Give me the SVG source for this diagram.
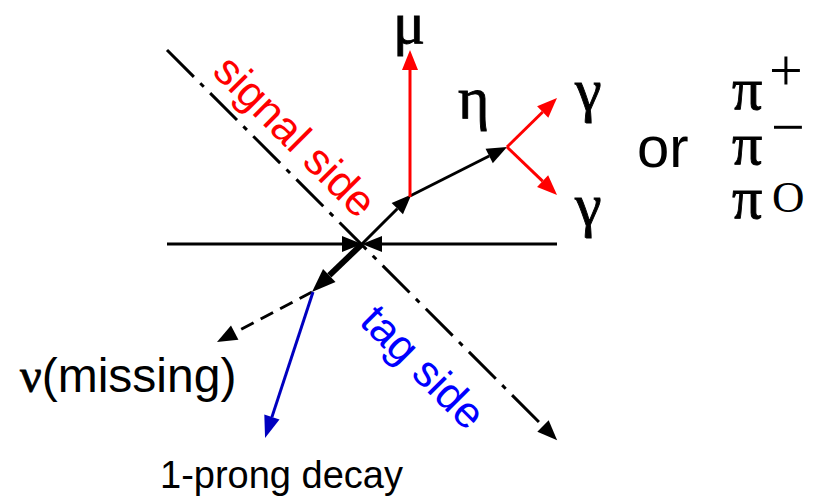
<svg xmlns="http://www.w3.org/2000/svg" width="821" height="498" viewBox="0 0 821 498">
<style>
.ln{fill:none;stroke-linecap:butt}
.k{stroke:#000}
.r{stroke:#ff0000}
.b{stroke:#0000c0}
.sans{font-family:"Liberation Sans",Arial,sans-serif}
.ser{font-family:"Liberation Serif","Times New Roman",serif}
.gk{font-family:"Liberation Serif","Times New Roman",serif;stroke:#000;stroke-width:0.9}
</style>
<defs>
<marker id="ak" markerUnits="userSpaceOnUse" markerWidth="20" markerHeight="16" refX="0" refY="8" orient="auto" viewBox="0 0 20 16" overflow="visible"><path d="M0,0 L20,8 L0,16 z" fill="#000"/></marker>
<marker id="akb" markerUnits="userSpaceOnUse" markerWidth="24" markerHeight="18" refX="0" refY="9" orient="auto" viewBox="0 0 24 18" overflow="visible"><path d="M0,0 L24,9 L0,18 z" fill="#000"/></marker>
<marker id="ar" markerUnits="userSpaceOnUse" markerWidth="20" markerHeight="16" refX="0" refY="8" orient="auto" viewBox="0 0 20 16" overflow="visible"><path d="M0,0 L20,8 L0,16 z" fill="#ff0000"/></marker>
<marker id="ab" markerUnits="userSpaceOnUse" markerWidth="22" markerHeight="16" refX="0" refY="8" orient="auto" viewBox="0 0 22 16" overflow="visible"><path d="M0,0 L22,8 L0,16 z" fill="#0000c0"/></marker>
</defs>
<g id="connectors">
<line class="ln k" x1="167" y1="244" x2="342" y2="244" stroke-width="3" marker-end="url(#ak)"/>
<line class="ln k" x1="557" y1="244" x2="382" y2="244" stroke-width="3" marker-end="url(#ak)"/>
<line class="ln k" x1="167" y1="50" x2="543" y2="426" stroke-width="3" stroke-dasharray="38 9 5 9" marker-end="url(#ak)"/>
<line class="ln k" x1="362" y1="244" x2="397.3" y2="208.7" stroke-width="3" marker-end="url(#ak)"/>
<line class="ln k" x1="362" y1="244" x2="329.3" y2="275.4" stroke-width="6" marker-end="url(#akb)"/>
<line class="ln k" x1="410" y1="196" x2="489.2" y2="156" stroke-width="3" marker-end="url(#ak)"/>
<line class="ln r" x1="410" y1="197" x2="410" y2="70" stroke-width="3" marker-end="url(#ar)"/>
<line class="ln r" x1="507" y1="147" x2="542.7" y2="112" stroke-width="3" marker-end="url(#ar)"/>
<line class="ln r" x1="507" y1="147" x2="542.6" y2="181.1" stroke-width="3" marker-end="url(#ar)"/>
<line class="ln k" x1="312" y1="292" x2="234.7" y2="332.7" stroke-width="3" stroke-dasharray="14 8" marker-end="url(#ak)"/>
<line class="ln b" x1="313" y1="292" x2="271.9" y2="417.1" stroke-width="3" marker-end="url(#ab)"/>
</g>
<g id="signal-side"><text class="sans" transform="translate(211,73) rotate(45)" font-size="44" fill="#ff0000">signal side</text></g>
<g id="tag-side"><text class="sans" transform="translate(358,323) rotate(45)" font-size="44" fill="#0000ff">tag side</text></g>
<g id="mu"><text class="gk" x="393" y="43" font-size="60">μ</text></g>
<g id="eta"><text class="gk" x="458" y="118" font-size="60">η</text></g>
<g id="gamma1"><text class="gk" x="575" y="110" font-size="60">γ</text></g>
<g id="gamma2"><text class="gk" x="575" y="225" font-size="60">γ</text></g>
<g id="or"><text class="sans" x="637" y="167" font-size="58">or</text></g>
<g id="pions">
<text class="gk" x="732" y="109" font-size="60">π</text>
<text class="gk" x="732" y="164" font-size="60">π</text>
<text class="gk" x="732" y="218" font-size="60">π</text>
<text class="ser" x="769" y="90" font-size="60">+</text>
<text class="ser" x="771" y="147" font-size="60">−</text>
<text class="ser" x="772" y="212" font-size="45">O</text>
</g>
<g id="neutrino"><text x="20" y="392" font-size="48"><tspan class="gk">ν</tspan><tspan class="sans">(missing)</tspan></text></g>
<g id="prong"><text class="sans" x="160" y="488" font-size="38">1-prong decay</text></g>
</svg>
